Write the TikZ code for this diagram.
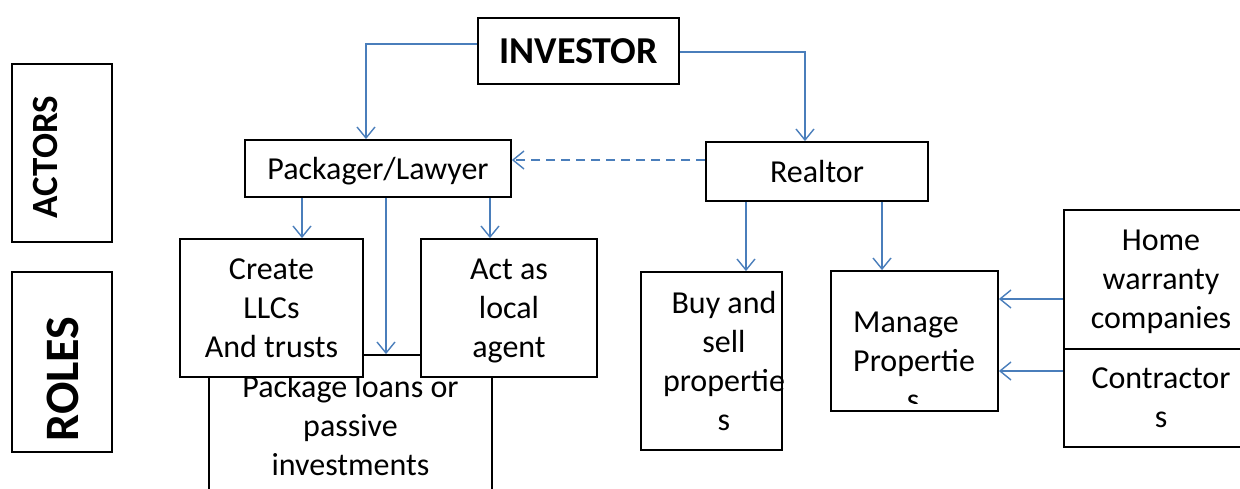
\documentclass[tikz,border=0pt]{standalone}
\usepackage{fontspec}
\setmainfont{Carlito}
\usetikzlibrary{arrows.meta}
\definecolor{connblue}{HTML}{4A7EBB}
\begin{document}
\begin{tikzpicture}[x=1pt,y=-1pt,
  box/.style={draw=black, line width=1.8pt, fill=white, rectangle, inner sep=0pt,
    font=\fontsize{32}{39}\selectfont, align=center, text depth=0pt},
  txt/.style={inner sep=0pt, font=\fontsize{32}{39}\selectfont},
  sidelbl/.style={inner sep=0pt, rotate=90, text depth=0pt},
  conn/.style={draw=connblue, line width=1.4pt, -{Straight Barb[length=11pt,width=18pt]}},
  dconn/.style={conn, dash pattern=on 9pt off 6pt},
]
\useasboundingbox (0,0) rectangle (1240,489);
\clip (0,0) rectangle (1240,489);

% side labels
\node[box, minimum width=100pt, minimum height=178pt] (actors) at (62,153) {};
\node[sidelbl, font=\fontsize{37}{40}\selectfont\bfseries] (actorslbl) at (45,157) {ACTORS};
\node[box, minimum width=100pt, minimum height=180pt] (roles) at (62,362) {};
\node[sidelbl, font=\fontsize{48}{52}\selectfont\bfseries] (roleslbl) at (63,379) {ROLES};

% actors
\node[box, minimum width=201pt, minimum height=66pt, font=\fontsize{38}{44}\selectfont\bfseries] (investor) at (578.5,51) {INVESTOR};
\node[box, minimum width=266pt, minimum height=57pt] (pack) at (378,168.5) {Packager/Lawyer};
\node[box, minimum width=222pt, minimum height=59pt] (realtor) at (817,171.5) {Realtor};

% roles
\node[box, minimum width=283pt, minimum height=140pt] (pl) at (350.5,425) {Package loans or\\passive\\investments};
\node[box, minimum width=183pt, minimum height=138pt] (create) at (271.5,308) {Create\\LLCs\\And trusts};
\node[box, minimum width=176pt, minimum height=138pt] (act) at (509,308) {Act as\\local\\agent};
\node[box, minimum width=141pt, minimum height=178pt] (buy) at (711.5,361) {};
\node[txt, align=center, text depth=0pt] (buytxt) at (724,361) {Buy and\\sell\\propertie\\s};
\node[box, minimum width=167pt, minimum height=140pt] (manage) at (914.5,341) {};
\begin{scope}
  \clip (833,273) rectangle (996,403);
  \node[txt, anchor=base west] (mt1) at (853,332) {Manage};
  \node[txt, anchor=base west] (mt2) at (853,371) {Propertie};
  \node[txt, anchor=base] (mt3) at (913,410) {s};
\end{scope}
\node[box, minimum width=194pt, minimum height=139pt] (home) at (1161,279.5) {Home\\warranty\\companies};
\node[box, minimum width=194pt, minimum height=98pt] (contr) at (1161,398) {Contractor\\s};

% connectors
\draw[conn] ([yshift=7pt]investor.west) -| ([xshift=-12pt]pack.north);
\draw[conn] ([yshift=-1pt]investor.east) -| ([xshift=-12pt]realtor.north);
\draw[dconn] ([yshift=11.5pt]realtor.west) -- ([yshift=11.5pt]realtor.west -| pack.east);
\draw[conn] ([xshift=-76pt]pack.south) -- ([xshift=-76pt]pack.south |- create.north);
\draw[conn] ([xshift=8pt]pack.south) -- ([xshift=8pt]pack.south |- pl.north);
\draw[conn] ([xshift=112pt]pack.south) -- ([xshift=112pt]pack.south |- act.north);
\draw[conn] ([xshift=-71pt]realtor.south) -- ([xshift=-71pt]realtor.south |- buy.north);
\draw[conn] ([xshift=65pt]realtor.south) -- ([xshift=65pt]realtor.south |- manage.north);
\draw[conn] ([yshift=-19.5pt]home.west) -- ([yshift=-19.5pt]home.west -| manage.east);
\draw[conn] ([yshift=27pt]contr.west) -- ([yshift=27pt]contr.west -| manage.east);
\end{tikzpicture}
\end{document}
